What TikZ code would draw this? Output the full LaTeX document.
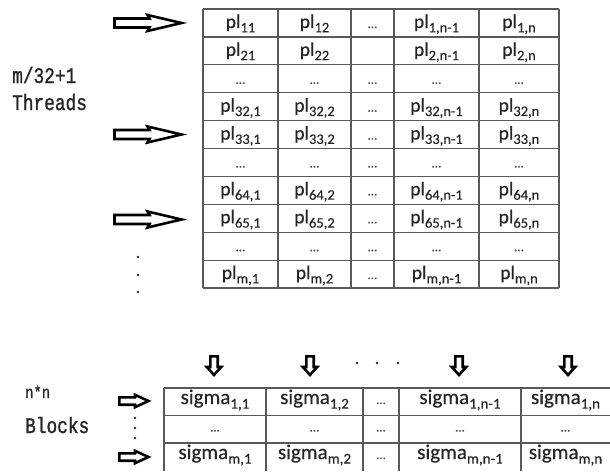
\documentclass[tikz,border=0pt]{standalone}
\usepackage{fontspec}
\usepackage{graphicx}
\setmainfont{Carlito}[FakeBold=0.5]
\newfontfamily\labelfont[FakeBold=1.2]{Liberation Mono}
% subscripts used in the cell texts
\newcommand\idx[1]{\raisebox{-0.22em}{\fontsize{14.5}{14.5}\selectfont #1}}
\newcommand\bidx[1]{\raisebox{-0.22em}{\fontsize{15}{15}\selectfont #1}}
\newcommand\pl[1]{pl\idx{#1}}
\newcommand\sg[1]{sigma\bidx{#1}}
\newcommand\dts{\textcolor{black!70}{\fontsize{13}{13}\selectfont …}}
\newcommand\lbl[1]{\scalebox{1}[1.25]{\fontsize{17.8}{20}\labelfont #1}}
\begin{document}
\begin{tikzpicture}[x=1pt,y=-1pt,
  gridline/.style={draw=black!65,line width=1.2pt},
  cell/.style={anchor=base,inner sep=0pt,text=black!85,font=\fontsize{19.5}{20}\selectfont},
  bcell/.style={anchor=base,inner sep=0pt,text=black!85,font=\fontsize{21}{22}\selectfont},
  sidelabel/.style={anchor=base west,inner sep=0pt,text=black!85},
  hollow/.style={draw=black,fill=white,line width=2.6pt,line join=miter},
  vdot/.style={fill=black!85,draw=none},
  bigright/.pic={\draw[hollow] (-36,-4.5) -- (-1,-4.5) -- (-3,-8) -- (31,0) -- (-3,8) -- (-1,4.5) -- (-36,4.5) -- cycle;},
  smallright/.pic={\draw[hollow] (-15.7,-3.7) -- (0,-3.7) -- (0,-6.2) -- (13.5,0) -- (0,6.2) -- (0,3.7) -- (-15.7,3.7) -- cycle;},
  smalldown/.pic={\draw[hollow] (-3.7,-9.7) -- (-3.7,1) -- (-7.2,1) -- (0,9) -- (7.2,1) -- (3.7,1) -- (3.7,-9.7) -- cycle;}
]
\useasboundingbox (0,0) rectangle (610,471);

% ---------- upper table: pl values ----------
\foreach \x in {203,278,351,394,479,559}
  \draw[gridline] (\x,9) -- (\x,288);
\foreach \i in {0,...,10}
  \draw[gridline] (203,{9+27.9*\i}) -- (559,{9+27.9*\i});

\foreach \r/\a/\b/\c/\d/\e in {
  1/{\pl{11}}/{\pl{12}}/\dts/{\pl{1,n-1}}/{\pl{1,n}},
  2/{\pl{21}}/{\pl{22}}/{}/{\pl{2,n-1}}/{\pl{2,n}},
  3/\dts/\dts/\dts/\dts/\dts,
  4/{\pl{32,1}}/{\pl{32,2}}/\dts/{\pl{32,n-1}}/{\pl{32,n}},
  5/{\pl{33,1}}/{\pl{33,2}}/\dts/{\pl{33,n-1}}/{\pl{33,n}},
  6/\dts/\dts/\dts/\dts/\dts,
  7/{\pl{64,1}}/{\pl{64,2}}/\dts/{\pl{64,n-1}}/{\pl{64,n}},
  8/{\pl{65,1}}/{\pl{65,2}}/\dts/{\pl{65,n-1}}/{\pl{65,n}},
  9/\dts/\dts/\dts/\dts/\dts,
  10/{\pl{m,1}}/{\pl{m,2}}/\dts/{\pl{m,n-1}}/{\pl{m,n}}}
{
  \pgfmathsetmacro\yb{9+27.9*(\r-1)+19}
  \node[cell] (t-\r-1) at (240.5,\yb) {\a};
  \node[cell] (t-\r-2) at (314.5,\yb) {\b};
  \node[cell] (t-\r-3) at (372.5,\yb) {\c};
  \node[cell] (t-\r-4) at (436.5,\yb) {\d};
  \node[cell] (t-\r-5) at (519,\yb) {\e};
}

% thread arrows and continuation dots
\pic at (150.5,23) {bigright};
\pic at (150.5,134.5) {bigright};
\pic at (150.5,219.5) {bigright};
\foreach \y in {257,275,292}
  \fill[vdot] (138,\y) circle (1.3);

\node[sidelabel] (threads-n) at (12,83) {\lbl{m/32+1}};
\node[sidelabel] (threads) at (12,110) {\lbl{Threads}};

% ---------- lower table: sigma values ----------
\foreach \x in {164,266,363,399,521}
  \draw[gridline] (\x,388) -- (\x,471);
\foreach \y in {388,415.5,443}
  \draw[gridline] (164,\y) -- (610,\y);

\foreach \r/\a/\b/\c/\d/\e in {
  1/{\sg{1,1}}/{\sg{1,2}}/\dts/{\sg{1,n-1}}/{\sg{1,n}},
  2/\dts/\dts/\dts/\dts/\dts,
  3/{\sg{m,1}}/{\sg{m,2}}/\dts/{\sg{m,n-1}}/{\sg{m,n}}}
{
  \pgfmathsetmacro\yb{388+27.5*(\r-1)+16}
  \node[bcell] (b-\r-1) at (215,\yb) {\a};
  \node[bcell] (b-\r-2) at (314.5,\yb) {\b};
  \node[bcell] (b-\r-3) at (381,\yb) {\c};
  \node[bcell] (b-\r-4) at (460,\yb) {\d};
  \node[bcell] (b-\r-5) at (565.5,\yb) {\e};
}

% block arrows above the columns and beside the rows
\foreach \x in {214,310,459,568}
  \pic at (\x,366) {smalldown};
\foreach \x in {357,377,398}
  \fill[vdot] (\x,363) circle (1.3);
\pic at (135,401) {smallright};
\pic at (135,457) {smallright};
\foreach \y in {418,428,438}
  \fill[vdot] (135,\y) circle (1.3);

\node[sidelabel] (blocks-n) at (25,398) {\scalebox{0.78}{\lbl{n*n}}};
\node[sidelabel] (blocks) at (25,433) {\lbl{Blocks}};
\end{tikzpicture}
\end{document}
